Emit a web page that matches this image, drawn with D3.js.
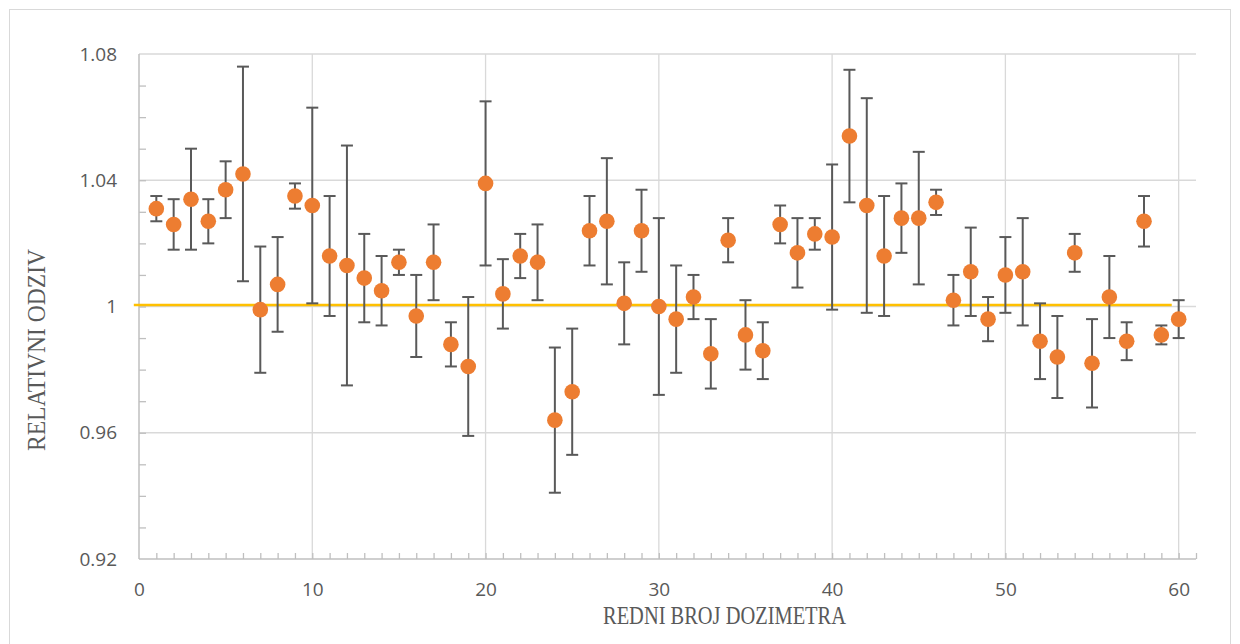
<!DOCTYPE html>
<html>
<head>
<meta charset="utf-8">
<script src="https://cdn.jsdelivr.net/npm/d3@7"></script>
<style>
  body { margin: 0; background: #fff; }
  svg { display: block; }
</style>
</head>
<body>
<div id="chart"></div>
<script>
// relative response per dosimeter (1..60) and its error
const dosimeters = d3.range(1, 61);
const response = [
  1.031, 1.026, 1.034, 1.027, 1.037, 1.042, 0.999, 1.007, 1.035, 1.032,
  1.016, 1.013, 1.009, 1.005, 1.014, 0.997, 1.014, 0.988, 0.981, 1.039,
  1.004, 1.016, 1.014, 0.964, 0.973, 1.024, 1.027, 1.001, 1.024, 1.000,
  0.996, 1.003, 0.985, 1.021, 0.991, 0.986, 1.026, 1.017, 1.023, 1.022,
  1.054, 1.032, 1.016, 1.028, 1.028, 1.033, 1.002, 1.011, 0.996, 1.010,
  1.011, 0.989, 0.984, 1.017, 0.982, 1.003, 0.989, 1.027, 0.991, 0.996
];
const errors = [
  0.004, 0.008, 0.016, 0.007, 0.009, 0.034, 0.020, 0.015, 0.004, 0.031,
  0.019, 0.038, 0.014, 0.011, 0.004, 0.013, 0.012, 0.007, 0.022, 0.026,
  0.011, 0.007, 0.012, 0.023, 0.020, 0.011, 0.020, 0.013, 0.013, 0.028,
  0.017, 0.007, 0.011, 0.007, 0.011, 0.009, 0.006, 0.011, 0.005, 0.023,
  0.021, 0.034, 0.019, 0.011, 0.021, 0.004, 0.008, 0.014, 0.007, 0.012,
  0.017, 0.012, 0.013, 0.006, 0.014, 0.013, 0.006, 0.008, 0.003, 0.006
];
const xTicks = [0, 10, 20, 30, 40, 50, 60];
const yTicks = [0.92, 0.96, 1.00, 1.04, 1.08];
const yTickLabels = ["0.92", "0.96", "1", "1.04", "1.08"];
// reference line (ideal response)
const refLine = [{ x: -0.3, y: 1.0005 }, { x: 59.6, y: 1.0005 }];

const W = 1240, H = 644;
const svg = d3.select("#chart").append("svg")
  .attr("width", W).attr("height", H);

// outer frame
svg.append("rect")
  .attr("x", 9.5).attr("y", 9.5)
  .attr("width", 1221).attr("height", 660)
  .attr("fill", "#fff").attr("stroke", "#d9d9d9");

const plot = { left: 139, right: 1196, top: 54, bottom: 559 };
const x = d3.scaleLinear().domain([0, 61]).range([plot.left, plot.right]);
const y = d3.scaleLinear().domain([0.92, 1.08]).range([plot.bottom, plot.top]);

const tickFont = "'Open Sans', 'Liberation Sans', sans-serif";
const titleFont = "'Liberation Serif', 'Times New Roman', serif";

// gridlines
svg.append("g").selectAll("line")
  .data(yTicks.slice(1))
  .enter().append("line")
  .attr("x1", plot.left).attr("x2", plot.right)
  .attr("y1", d => y(d)).attr("y2", d => y(d))
  .attr("stroke", "#d9d9d9").attr("stroke-width", 1.3);

svg.append("g").selectAll("line")
  .data(xTicks.slice(1))
  .enter().append("line")
  .attr("x1", d => x(d)).attr("x2", d => x(d))
  .attr("y1", plot.top).attr("y2", plot.bottom)
  .attr("stroke", "#d9d9d9").attr("stroke-width", 1.3);

// minor ticks (inside)
const xMinor = d3.axisBottom(x).tickValues(d3.range(1, 62)).tickSize(-6).tickFormat("");
const gxm = svg.append("g").attr("transform", `translate(0,${plot.bottom})`).call(xMinor);
gxm.select(".domain").remove();
gxm.selectAll("line").attr("stroke", "#bfbfbf").attr("stroke-width", 1.3);

const yMinor = d3.axisLeft(y).tickValues(d3.range(0.93, 1.075, 0.01)).tickSize(-7).tickFormat("");
const gym = svg.append("g").attr("transform", `translate(${plot.left},0)`).call(yMinor);
gym.select(".domain").remove();
gym.selectAll("line").attr("stroke", "#bfbfbf").attr("stroke-width", 1.3);

// axis lines
svg.append("line").attr("x1", plot.left).attr("x2", plot.right)
  .attr("y1", plot.bottom).attr("y2", plot.bottom)
  .attr("stroke", "#bfbfbf").attr("stroke-width", 1.5);
svg.append("line").attr("x1", plot.left).attr("x2", plot.left)
  .attr("y1", plot.top).attr("y2", plot.bottom)
  .attr("stroke", "#bfbfbf").attr("stroke-width", 1.5);

// tick labels
const xAxis = d3.axisBottom(x).tickValues(xTicks).tickSize(0).tickPadding(24);
const gx = svg.append("g").attr("transform", `translate(0,${plot.bottom})`).call(xAxis);
gx.select(".domain").remove();
gx.selectAll("text").attr("font-family", tickFont).attr("font-size", 19).attr("fill", "#595959");

const yAxis = d3.axisLeft(y).tickValues(yTicks).tickSize(0).tickPadding(22)
  .tickFormat((d, i) => yTickLabels[i]);
const gy = svg.append("g").attr("transform", `translate(${plot.left},0)`).call(yAxis);
gy.select(".domain").remove();
gy.selectAll("text").attr("font-family", tickFont).attr("font-size", 19).attr("fill", "#595959");

// reference line
svg.append("path")
  .datum(refLine)
  .attr("d", d3.line().x(d => x(d.x)).y(d => y(d.y)))
  .attr("stroke", "#ffc000").attr("stroke-width", 2.5).attr("fill", "none");

const pts = dosimeters.map((d, i) => ({ n: d, v: response[i], e: errors[i] }));

// error bars
const eb = svg.append("g").attr("stroke", "#595959").attr("stroke-width", 2);
eb.selectAll("line.bar").data(pts).enter().append("line").attr("class", "bar")
  .attr("x1", d => x(d.n)).attr("x2", d => x(d.n))
  .attr("y1", d => y(d.v + d.e)).attr("y2", d => y(d.v - d.e));
eb.selectAll("line.capt").data(pts).enter().append("line").attr("class", "capt")
  .attr("x1", d => x(d.n) - 6).attr("x2", d => x(d.n) + 6)
  .attr("y1", d => y(d.v + d.e)).attr("y2", d => y(d.v + d.e));
eb.selectAll("line.capb").data(pts).enter().append("line").attr("class", "capb")
  .attr("x1", d => x(d.n) - 6).attr("x2", d => x(d.n) + 6)
  .attr("y1", d => y(d.v - d.e)).attr("y2", d => y(d.v - d.e));

// markers
svg.append("g").selectAll("circle").data(pts).enter().append("circle")
  .attr("cx", d => x(d.n)).attr("cy", d => y(d.v))
  .attr("r", 7.8)
  .attr("fill", "#ed7d31");

// axis titles (narrow serif, squeezed like the original)
svg.append("text")
  .attr("x", 603).attr("y", 624)
  .attr("font-family", titleFont)
  .attr("font-size", 25).attr("fill", "#595959")
  .attr("textLength", 243).attr("lengthAdjust", "spacingAndGlyphs")
  .text("REDNI BROJ DOZIMETRA");

svg.append("text")
  .attr("transform", "translate(45,451) rotate(-90)")
  .attr("font-family", titleFont)
  .attr("font-size", 25).attr("fill", "#595959")
  .attr("textLength", 202).attr("lengthAdjust", "spacingAndGlyphs")
  .text("RELATIVNI ODZIV");
</script>
</body>
</html>
